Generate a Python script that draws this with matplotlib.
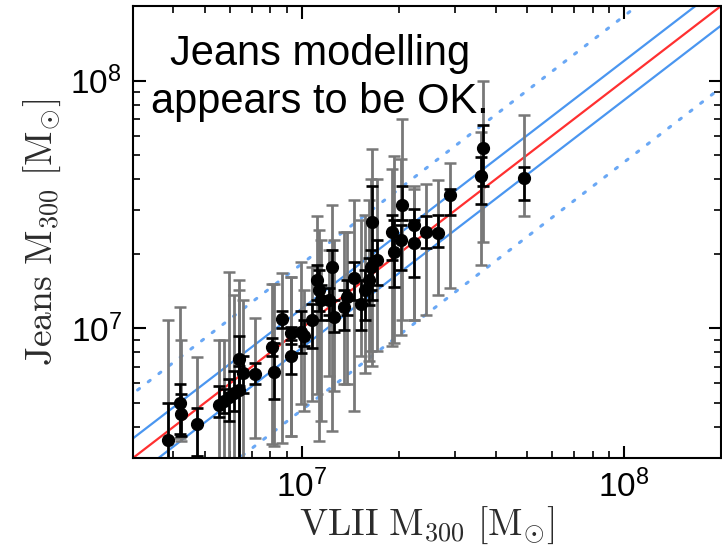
import numpy as np
import matplotlib
matplotlib.use('Agg')
import matplotlib.pyplot as plt

plt.rcParams['font.family'] = ['Liberation Sans', 'DejaVu Sans']
plt.rcParams['mathtext.fontset'] = 'cm'

# halo masses inside 300 pc, in units of 1e6 Msun
vlii = [3.85, 4.20, 4.23, 4.74, 5.55, 5.74, 5.96, 6.17, 6.40, 6.40, 6.58, 7.16,
        8.09, 8.20, 8.69, 9.27, 9.27, 9.95, 10.16, 10.76, 11.14, 11.30, 11.48,
        12.13, 12.42, 12.59, 13.52, 13.80, 14.52, 15.28, 15.70, 16.14, 16.37,
        16.52, 17.10, 19.05, 19.32, 20.28, 20.42, 22.28, 22.28, 24.27, 26.42,
        28.97, 36.14, 36.64, 49.09]
jeans = [3.54, 5.00, 4.51, 4.11, 4.91, 5.10, 5.29, 5.49, 5.65, 7.55, 6.62, 6.56,
         8.45, 6.69, 10.9, 9.54, 7.77, 9.63, 9.28, 10.8, 15.7, 14.3, 13.0,
         13.0, 17.7, 11.1, 12.2, 13.4, 16.0, 12.6, 14.3, 15.7, 17.7,
         27.0, 18.9, 24.6, 20.4, 22.8, 31.6, 26.2, 22.2, 24.6, 24.3,
         34.4, 41.1, 53.4, 40.4]
# wide (grey) interval
gray_hi = [10.8, 12.2, 9.02, 7.69, 9.02, 8.94, 16.9, 13.6, 15.7, 14.3, 13.0, 11.0,
           15.1, 15.1, 16.7, 16.1, 16.1, 18.6, 14.3, 17.7, 28.3, 25.0, 22.8,
           20.7, 31.6, 22.8, 24.6, 24.6, 33.1, 27.5, 28.8, 33.1, 40.0,
           52.9, 40.0, 43.9, 49.6, 48.2, 70.1, 37.4, 36.4, 38.1, 39.6,
           46.4, 62.0, 100.0, 72.8]
gray_lo = [2.65, 3.61, 3.51, 3.05, 2.65, 2.65, 2.65, 2.65, 2.65, 2.65, 2.65, 3.61,
           3.41, 3.35, 3.44, 3.67, 3.67, 4.96, 4.64, 5.10, 5.44, 3.51, 4.23,
           6.44, 3.85, 5.60, 5.98, 5.98, 4.64, 7.77, 6.62, 7.41, 8.14,
           7.07, 8.14, 8.53, 8.77, 9.37, 10.8, 10.8, 10.8, 11.3, 13.6,
           14.5, 18.0, 22.4, 28.3]
# narrow (black) interval
black_hi = [5.00, 5.98, 5.44, 4.77, 5.87, 5.70, 6.26, 6.75, 7.07, 9.28, 7.77, 7.27,
            9.11, 8.77, 11.8, 10.1, 8.94, 11.8, 10.8, 12.6, 18.0, 17.2, 15.0,
            14.5, 20.7, 13.0, 14.3, 15.7, 18.6, 15.7, 17.2, 19.3, 20.7,
            37.4, 22.8, 28.8, 27.5, 26.2, 37.4, 30.2, 27.5, 28.3, 28.8,
            36.4, 49.1, 66.2, 44.7]
black_lo = [2.65, 3.74, 3.67, 3.05, 4.39, 4.56, 4.23, 4.64, 2.65, 5.87, 5.49, 5.98,
            7.77, 5.19, 10.0, 8.69, 6.56, 7.99, 8.53, 8.37, 13.0, 11.8, 10.8,
            11.3, 10.8, 9.63, 9.81, 11.3, 13.0, 9.81, 10.8, 12.4, 14.3,
            13.0, 15.0, 18.9, 14.7, 17.2, 27.5, 21.8, 16.1, 21.1, 21.3,
            28.8, 31.9, 37.4, 33.1]

unit = 1e6
band_inner = 1.2            # solid blue lines, factor above/below 1:1
band_outer = (1.82, 0.468)  # dotted blue lines

x = np.array(vlii) * unit
y = np.array(jeans) * unit
g_err = [y - np.array(gray_lo) * unit, np.array(gray_hi) * unit - y]
b_err = [y - np.array(black_lo) * unit, np.array(black_hi) * unit - y]

fig = plt.figure(figsize=(7.22, 5.53), dpi=100)
ax = fig.add_axes([0.1842, 0.1718, 0.8144, 0.8174])
ax.set_xscale('log')
ax.set_yscale('log')

line = np.array([1e6, 1e9])
ax.plot(line, line, color='#ff3030', lw=1.6, zorder=1)
ax.plot(line, line * band_inner, color='#4a96f0', lw=1.6, zorder=1)
ax.plot(line, line / band_inner, color='#4a96f0', lw=1.6, zorder=1)
for f in band_outer:
    ax.plot(line, line * f, color='#6aa8f5', lw=2.2, ls=(0, (0.8, 3.6)),
            dash_capstyle='round', zorder=1)

ax.errorbar(x, y, yerr=g_err, fmt='none', ecolor='#787878', elinewidth=2.0,
            capsize=4.5, capthick=1.8, zorder=2)
ax.errorbar(x, y, yerr=b_err, fmt='o', color='black', ms=8.5, elinewidth=1.9,
            capsize=4.5, capthick=1.9, zorder=3)

ax.set_xlim(3e6, 2e8)
ax.set_ylim(3e6, 2e8)

ax.tick_params(which='both', direction='in', top=True, right=True)
ax.tick_params(which='major', length=9, width=1.5, labelsize=24, pad=8)
ax.tick_params(which='minor', length=5, width=1.2)
for s in ax.spines.values():
    s.set_linewidth(1.5)

ax.set_xlabel(r'$\mathrm{VLII\ M_{300}\ [M_{\odot}]}$', fontsize=27,
              color='#2b2b2b', labelpad=1)
ax.set_ylabel(r'$\mathrm{Jeans\ M_{300}\ [M_{\odot}]}$', fontsize=27,
              color='#2b2b2b', labelpad=5)

ax.text(0.318, 0.763, 'Jeans modelling\nappears to be OK.', transform=ax.transAxes,
        ha='center', va='baseline', multialignment='center', fontsize=30,
        linespacing=1.25, zorder=4)

fig.savefig('out.png', dpi=100)
